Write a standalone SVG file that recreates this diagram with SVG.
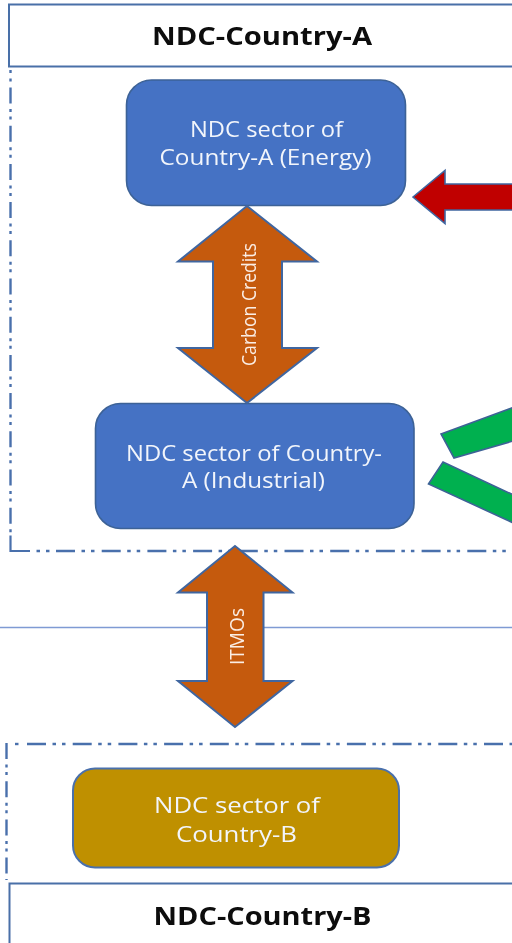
<svg xmlns="http://www.w3.org/2000/svg" width="512" height="943" viewBox="0 0 512 943">
<style>
text{font-family:"Open Sans","Noto Sans","Liberation Sans",sans-serif;text-anchor:middle}
.t{font-size:25.500px;font-weight:700;fill:#0a0a0a}
.l{font-size:22.500px;fill:#f2f5fb}
.b{fill:#fff;stroke:#4a6fa8;stroke-width:2}
.s{fill:#4472c4;stroke:#3d6296;stroke-width:1.6}
.o{fill:#c55a11;stroke:#3f66a0;stroke-width:2}
.a{font-size:19.500px;fill:#fbeee4}
.h{fill:none;stroke:#4a70ac;stroke-width:2.400;stroke-dasharray:19 6.500 3.500 6 3.500 7.200}
.v{fill:none;stroke:#4a70ac;stroke-width:2.400;stroke-dasharray:16 5.500 3 4.500 3 6.200}
</style>
<defs><filter id="soft" x="0" y="0" width="100%" height="100%" filterUnits="objectBoundingBox"><feGaussianBlur stdDeviation="0.45"/></filter></defs>
<rect width="512" height="943" fill="#fff"/>
<g filter="url(#soft)">
<rect width="512" height="943" fill="#fff"/>
<line id="divider" x1="0" y1="627.500" x2="512" y2="627.500" stroke="#7f9bd4" stroke-width="1.500"/>
<g id="country-a-boundary">
<path class="v" d="M10.500 87.500V535"/>
<path d="M10.500 70V73M10.500 78.500V81.500" fill="none" stroke="#4a70ac" stroke-width="2.400"/>
<path d="M10.500 535.500V551H30" fill="none" stroke="#4a70ac" stroke-width="2.200"/>
<path d="M36.500 551H40M46 551H49.500" fill="none" stroke="#4a70ac" stroke-width="2.400"/>
<path class="h" d="M56 551H512"/>
</g>
<g id="country-b-boundary">
<path class="h" d="M27 744H512"/>
<path d="M15 744H18.500" fill="none" stroke="#4a70ac" stroke-width="2.400"/>
<path class="v" d="M6.500 743V880"/>
</g>
<g id="header-a"><rect class="b" x="9" y="4.500" width="520" height="62"/><text class="t" x="262" y="44.500" textLength="220" lengthAdjust="spacingAndGlyphs">NDC-Country-A</text></g>
<g id="sector-a-energy"><rect class="s" x="126.500" y="80" width="279" height="125.500" rx="25"/><text class="l" x="266.500" y="136.500" textLength="153" lengthAdjust="spacingAndGlyphs">NDC sector of</text><text class="l" x="265.500" y="164.500" textLength="212" lengthAdjust="spacingAndGlyphs">Country-A (Energy)</text></g>
<g id="sector-a-industrial"><rect class="s" x="95.500" y="403.500" width="318.500" height="125" rx="25"/><text class="l" x="254" y="460.500" textLength="256" lengthAdjust="spacingAndGlyphs">NDC sector of Country-</text><text class="l" x="253.500" y="488" textLength="143" lengthAdjust="spacingAndGlyphs">A (Industrial)</text></g>
<g id="sector-b"><rect x="73" y="768.500" width="326" height="99" rx="22" fill="#bf9000" stroke="#4a70ac" stroke-width="2"/><text class="l" x="237" y="812.500" textLength="166" lengthAdjust="spacingAndGlyphs">NDC sector of</text><text class="l" x="236.500" y="841.500" textLength="121" lengthAdjust="spacingAndGlyphs">Country-B</text></g>
<g id="header-b"><rect class="b" x="9.500" y="883.500" width="520" height="80"/><text class="t" x="262.500" y="924.500" textLength="218" lengthAdjust="spacingAndGlyphs">NDC-Country-B</text></g>
<g id="connectors">
<g id="carbon-credits"><path class="o" d="M247 206L317 261.500H282V348H317L247 403L178 348H213V261.500H178Z"/><text class="a" transform="translate(255.500 304.500) rotate(-90)" textLength="123" lengthAdjust="spacingAndGlyphs">Carbon Credits</text></g>
<g id="itmos"><path class="o" d="M235 546L292.500 592.500H263.500V681H292.500L235 727L178 681H207V592.500H178Z"/><text class="a" transform="translate(244 636.500) rotate(-90)" textLength="57" lengthAdjust="spacingAndGlyphs">ITMOs</text></g>
<path id="red-arrow" d="M413 197L445 170.500V184H520V210H445V223.500Z" fill="#c00000" stroke="#3f66a0" stroke-width="1.600"/>
<path id="green-upper" d="M441 434L520 405V439L454 458Z" fill="#00b050" stroke="#3d6296" stroke-width="1.600"/>
<path id="green-lower" d="M443 462L520 498V526L428.500 484Z" fill="#00b050" stroke="#3d6296" stroke-width="1.600"/>
</g>
</g>
</svg>
